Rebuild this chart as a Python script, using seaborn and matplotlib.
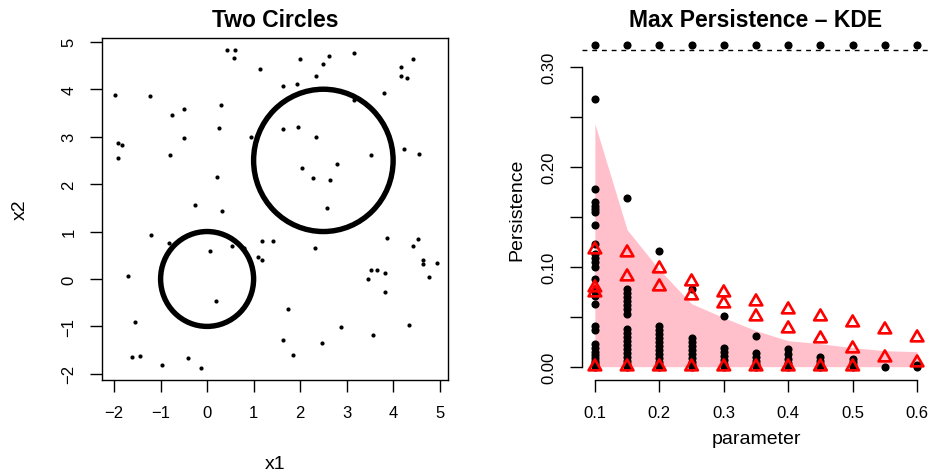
import numpy as np
import pandas as pd
import matplotlib
matplotlib.use("Agg")
import matplotlib.pyplot as plt
from matplotlib.patches import Circle
from matplotlib.path import Path
import seaborn as sns

# ---------------- Left panel data ----------------
circle_cx = [0.0, 2.5]
circle_cy = [0.0, 2.5]
circle_r = [1.0, 1.5]

noise_x = [0.42, 0.60, 0.58, 1.99, 2.63, 2.50, 3.15, 4.43, 4.18, 4.16, 4.29, 1.13, 2.34, 1.93,
           1.64, 3.81, 3.16, -1.99, -1.23, -0.49, -0.75, 0.29, 0.26, -0.49, 0.95, 1.64, 1.96,
           2.34, -1.91, -1.83, -1.92, -0.79, 3.53, 4.23, 4.55, 2.80, 2.03, 2.27, 2.65, 0.22,
           -0.27, 0.31, 2.57,
           -1.21, -0.82, 0.07, 0.54, 0.80, 1.19, 1.42, 1.09, 1.19, 2.31, 3.87, 4.54, 4.42, 4.64,
           4.65, 4.95, 4.77, 3.53, 3.65, 3.83, 3.46, 3.83, -1.70, 0.19, 1.73, -1.54, 2.87, 4.34,
           3.57, 1.63, 2.48, 1.84, -1.61, -1.45, -0.41, -0.98, -0.13]
noise_y = [4.82, 4.82, 4.65, 4.63, 4.71, 4.54, 4.77, 4.63, 4.46, 4.27, 4.23, 4.42, 4.27, 4.12,
           4.06, 3.93, 3.78, 3.87, 3.85, 3.59, 3.45, 3.66, 3.19, 2.98, 3.00, 3.17, 3.21,
           3.00, 2.86, 2.83, 2.56, 2.62, 2.62, 2.75, 2.64, 2.43, 2.33, 2.12, 2.09, 2.14,
           1.55, 1.44, 1.50,
           0.93, 0.75, 0.60, 0.70, 0.66, 0.79, 0.81, 0.47, 0.41, 0.66, 0.87, 0.85, 0.70, 0.41,
           0.32, 0.34, 0.05, 0.18, 0.18, 0.13, -0.01, -0.27, 0.07, -0.46, -0.63, -0.90, -1.01, -0.96,
           -1.18, -1.28, -1.36, -1.60, -1.64, -1.62, -1.66, -1.81, -1.87]

# ---------------- Right panel data ----------------
parameters = [0.1, 0.15, 0.2, 0.25, 0.3, 0.35, 0.4, 0.45, 0.5, 0.55, 0.6]
band_lower = [0, 0, 0, 0, 0, 0, 0, 0, 0, 0, 0]
band_upper = [0.243, 0.137, 0.097, 0.063, 0.049, 0.036, 0.026, 0.023, 0.019, 0.016, 0.015]

pers_010 = [0.268, 0.178, 0.165, 0.161, 0.158, 0.155, 0.142, 0.123, 0.113, 0.109, 0.105, 0.100,
            0.088, 0.076, 0.071, 0.063, 0.041, 0.037, 0.023, 0.019, 0.015, 0.012, 0.009, 0.006,
            0.004, 0.002, 0.0]
pers_015 = [0.169, 0.078, 0.074, 0.070, 0.066, 0.062, 0.058, 0.053, 0.038, 0.034, 0.030, 0.026,
            0.022, 0.018, 0.014, 0.010, 0.006, 0.003, 0.0]
pers_020 = [0.116, 0.041, 0.037, 0.033, 0.029, 0.025, 0.021, 0.017, 0.013, 0.009, 0.005, 0.002, 0.0]
pers_025 = [0.078, 0.029, 0.025, 0.021, 0.017, 0.013, 0.009, 0.005, 0.002, 0.0]
pers_030 = [0.051, 0.019, 0.015, 0.011, 0.007, 0.003, 0.0]
pers_035 = [0.031, 0.014, 0.010, 0.006, 0.003, 0.0]
pers_040 = [0.018, 0.013, 0.008, 0.004, 0.0]
pers_045 = [0.010, 0.006, 0.003, 0.0]
pers_050 = [0.008, 0.005, 0.002, 0.0]
pers_055 = [0.0]
pers_060 = [0.002, 0.0]

tri_010 = [0.117, 0.079, 0.074, 0.0]
tri_015 = [0.114, 0.090, 0.0]
tri_020 = [0.098, 0.080, 0.0]
tri_025 = [0.085, 0.071, 0.0]
tri_030 = [0.074, 0.063, 0.0]
tri_035 = [0.065, 0.050, 0.0]
tri_040 = [0.057, 0.038, 0.0]
tri_045 = [0.050, 0.028, 0.0]
tri_050 = [0.044, 0.018, 0.0]
tri_055 = [0.037, 0.009]
tri_060 = [0.029, 0.004]

max_level = [0.322] * 11
threshold = 0.3165

y_ticks_right = [0.0, 0.05, 0.10, 0.15, 0.20, 0.25, 0.30]
y_ticklabels_right = ["0.00", "", "0.10", "", "0.20", "", "0.30"]
x_ticks_right = [0.1, 0.2, 0.3, 0.4, 0.5, 0.6]
x_ticklabels_right = ["0.1", "0.2", "0.3", "0.4", "0.5", "0.6"]
ticks_left = [-2, -1, 0, 1, 2, 3, 4, 5]
ticklabels_left = ["\u22122", "\u22121", "0", "1", "2", "3", "4", "5"]

# ---------------- Build tables ----------------
pers_cols = [pers_010, pers_015, pers_020, pers_025, pers_030, pers_035,
             pers_040, pers_045, pers_050, pers_055, pers_060]
tri_cols = [tri_010, tri_015, tri_020, tri_025, tri_030, tri_035,
            tri_040, tri_045, tri_050, tri_055, tri_060]
df_black = pd.DataFrame({
    "parameter": [p for p, col in zip(parameters, pers_cols) for _ in col],
    "persistence": [v for col in pers_cols for v in col],
})
df_tri = pd.DataFrame({
    "parameter": [p for p, col in zip(parameters, tri_cols) for _ in col],
    "persistence": [v for col in tri_cols for v in col],
})
df_noise = pd.DataFrame({"x1": noise_x, "x2": noise_y})
df_max = pd.DataFrame({"parameter": parameters, "persistence": max_level})

# ---------------- Style ----------------
sns.set_theme(style="white")
plt.rcParams["font.family"] = ["Liberation Sans", "DejaVu Sans"]
plt.rcParams["axes.edgecolor"] = "black"
plt.rcParams["axes.linewidth"] = 1.0
plt.rcParams["text.color"] = "black"
plt.rcParams["axes.labelcolor"] = "black"
plt.rcParams["axes.titlecolor"] = "black"
plt.rcParams["xtick.color"] = "black"
plt.rcParams["ytick.color"] = "black"
plt.rcParams["xtick.labelcolor"] = "black"
plt.rcParams["ytick.labelcolor"] = "black"

W, H = 932, 477
fig = plt.figure(figsize=(W / 100, H / 100), dpi=100)
ax1 = fig.add_axes([102 / W, 1 - 381 / H, 346 / W, 342 / H])
ax2 = fig.add_axes([582 / W, 1 - 381 / H, 348 / W, 342 / H])

tick_fs = 12
lab_fs = 14
title_fs = 16.5

# ---------------- Left panel ----------------
for cx, cy, r in zip(circle_cx, circle_cy, circle_r):
    ax1.add_patch(Circle((cx, cy), r, fill=False, edgecolor="black", linewidth=3.9, zorder=2))
sns.scatterplot(data=df_noise, x="x1", y="x2", color="black", s=9, linewidth=0, ax=ax1, zorder=3)
ax1.set_xlim(-2.26, 5.18)
ax1.set_ylim(-2.13, 5.08)
ax1.set_xticks(ticks_left)
ax1.set_xticklabels(ticklabels_left)
ax1.set_yticks(ticks_left)
ax1.set_yticklabels(ticklabels_left)
ax1.set_title("Two Circles", fontsize=title_fs, fontweight="bold", pad=9, color="black")
ax1.set_xlabel("x1", fontsize=lab_fs, color="black")
ax1.set_ylabel("x2", fontsize=lab_fs, color="black")
ax1.xaxis.set_label_coords(0.5, (381 - 465) / 342)
ax1.yaxis.set_label_coords((20 - 102) / 346, 0.5)

# ---------------- Right panel ----------------
ax2.fill_between(parameters, band_lower, band_upper, color="pink", linewidth=0, zorder=1)
sns.scatterplot(data=df_black, x="parameter", y="persistence", color="black", s=34,
                linewidth=0, ax=ax2, zorder=3)
tri_path = Path([(0, 1), (-0.866, -0.5), (0.866, -0.5), (0, 1)], closed=True)
sns.scatterplot(data=df_tri, x="parameter", y="persistence", marker=tri_path, s=110,
                color="red", facecolor="none", edgecolor="red", linewidth=1.9, ax=ax2, zorder=4)
sns.scatterplot(data=df_max, x="parameter", y="persistence", color="black", s=34,
                linewidth=0, ax=ax2, zorder=3, clip_on=False)
ax2.axhline(threshold, color="black", linewidth=1.0, linestyle=(0, (3.5, 3.5)), zorder=2)
ax2.set_xlim(0.08, 0.62)
ax2.set_ylim(-0.0133, 0.3287)
ax2.set_xticks(x_ticks_right)
ax2.set_xticklabels(x_ticklabels_right)
ax2.set_yticks(y_ticks_right)
ax2.set_yticklabels(y_ticklabels_right)
ax2.spines["top"].set_visible(False)
ax2.spines["right"].set_visible(False)
ax2.spines["left"].set_bounds(0, 0.30)
ax2.spines["bottom"].set_bounds(0.1, 0.6)
ax2.set_title("Max Persistence \u2013 KDE", fontsize=title_fs, fontweight="bold", pad=9, color="black")
ax2.set_xlabel("parameter", fontsize=lab_fs, color="black")
ax2.set_ylabel("Persistence", fontsize=lab_fs, color="black")
ax2.xaxis.set_label_coords(0.5, (381 - 440) / 342)
ax2.yaxis.set_label_coords((517 - 582) / 348, 0.5)

for ax in (ax1, ax2):
    ax.tick_params(axis="both", which="both", direction="out", length=8.3, width=1.0,
                   labelsize=tick_fs, pad=10, bottom=True, left=True, colors="black",
                   labelcolor="black")
    for t in ax.get_yticklabels():
        t.set_rotation(90)
        t.set_verticalalignment("center")
    ax.xaxis.label.set_verticalalignment("center")
    ax.yaxis.label.set_verticalalignment("center")
    ax.grid(False)

fig.savefig("out.png", dpi=100)
